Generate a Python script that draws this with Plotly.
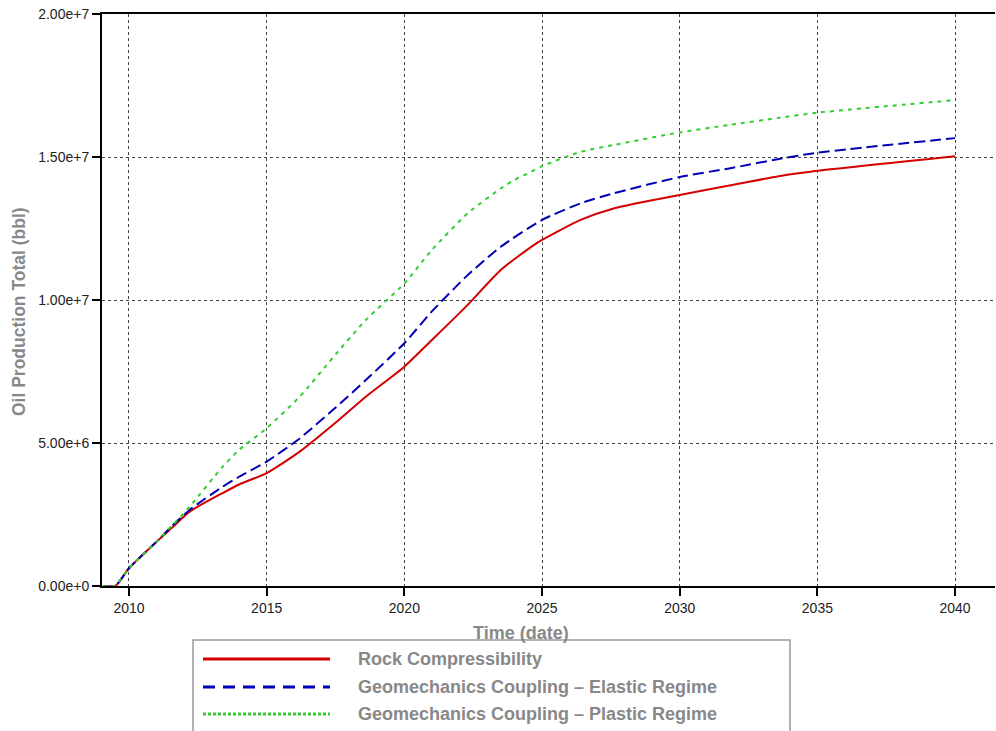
import plotly.graph_objects as go

# ---- data (values in million bbl, time in decimal years) ----
rock_t = [2009.05, 2009.5, 2010.0, 2011.0, 2011.6, 2012.2, 2013.4, 2014.0, 2015.0,
          2016.2, 2017.4, 2018.6, 2020.0, 2021.0, 2022.3, 2023.5, 2024.7, 2025.0,
          2026.4, 2027.6, 2030.0, 2031.8, 2033.6, 2035.0, 2040.0]
rock_v = [0.0, 0.0, 0.62, 1.55, 2.07, 2.6, 3.25, 3.55, 3.95,
          4.7, 5.63, 6.62, 7.67, 8.6, 9.83, 11.05, 11.92, 12.1,
          12.8, 13.2, 13.67, 14.0, 14.33, 14.52, 15.03]

elastic_t = [2009.05, 2009.5, 2010.0, 2011.0, 2011.6, 2012.2, 2013.4, 2014.0, 2015.0, 2016.2,
             2017.4, 2018.6, 2020.0, 2021.0, 2022.3, 2023.5, 2025.0, 2026.4, 2027.6, 2030.0,
             2031.8, 2033.6, 2035.0, 2040.0]
elastic_v = [0.0, 0.0, 0.62, 1.55, 2.13, 2.66, 3.47, 3.82, 4.35, 5.16,
             6.15, 7.2, 8.49, 9.6, 10.87, 11.86, 12.8, 13.38, 13.73, 14.3,
             14.6, 14.93, 15.15, 15.66]

plastic_t = [2009.05, 2009.5, 2010.0, 2011.0, 2011.6, 2012.2, 2013.4, 2014.0, 2015.0, 2016.2,
             2017.4, 2018.6, 2020.0, 2021.0, 2022.3, 2023.5, 2024.0, 2024.6, 2025.0, 2026.4,
             2027.6, 2030.0, 2031.8, 2033.6, 2035.0, 2040.0]
plastic_v = [0.0, 0.0, 0.62, 1.55, 2.15, 2.77, 4.17, 4.76, 5.52, 6.62,
             7.98, 9.3, 10.58, 11.75, 13.03, 13.9, 14.2, 14.48, 14.68, 15.18,
             15.42, 15.86, 16.12, 16.37, 16.55, 16.99]

series_names = ["Rock Compressibility",
                "Geomechanics Coupling \u2013 Elastic Regime",
                "Geomechanics Coupling \u2013 Plastic Regime"]
x_ticks = [2010, 2015, 2020, 2025, 2030, 2035, 2040]
y_ticks = [0, 5e6, 1e7, 1.5e7, 2e7]
y_ticktext = ["0.00e+0", "5.00e+6", "1.00e+7", "1.50e+7", "2.00e+7"]

colors = ["#d40000", "#0000b4", "#33cc33"]
dashes = ["solid", "11px,5px", "4px,5px"]
legend_dashes = ["solid", "12px,8px", "3px,2px"]

fig = go.Figure()
for t, v, name, c, d in zip([rock_t, elastic_t, plastic_t],
                            [rock_v, elastic_v, plastic_v],
                            series_names, colors, dashes):
    fig.add_trace(go.Scatter(x=t, y=[val * 1e6 for val in v], mode="lines", name=name,
                             line=dict(color=c, width=2, dash=d, shape="spline", smoothing=0.6)))

W, H = 996, 731
L, R, T, B = 102, 1, 14, 145
pw, ph = W - L - R, H - T - B

def px(xp):
    return (xp - L) / pw

def py(yp):
    return (H - B - yp) / ph

fig.update_layout(
    width=W, height=H,
    margin=dict(l=L, r=R, t=T, b=B),
    paper_bgcolor="white", plot_bgcolor="white",
    showlegend=False,
    font=dict(family="Liberation Sans, Arial, sans-serif", color="#222"),
)
fig.update_xaxes(
    range=[2009.02, 2041.45], tickvals=x_ticks, ticktext=[str(v) for v in x_ticks],
    showline=True, linecolor="black", linewidth=2, mirror=True,
    ticks="outside", ticklen=8, tickwidth=2, tickcolor="black",
    showgrid=True, gridcolor="#444", gridwidth=1, griddash="3px,3px",
    zeroline=False, tickfont=dict(size=14, color="#222"),
)
fig.update_yaxes(
    range=[0, 2e7], tickvals=y_ticks, ticktext=y_ticktext,
    showline=True, linecolor="black", linewidth=2, mirror=False,
    ticks="outside", ticklen=8, tickwidth=2, tickcolor="black",
    showgrid=True, gridcolor="#444", gridwidth=1, griddash="3px,3px",
    zeroline=False, tickfont=dict(size=14, color="#222"),
)

# axis titles
fig.add_annotation(x=px(521), y=py(633), xref="paper", yref="paper", text="<b>Time (date)</b>",
                   showarrow=False, font=dict(size=18, color="#888"), xanchor="center", yanchor="middle")
fig.add_annotation(x=px(19), y=py(312), xref="paper", yref="paper",
                   text="<b>Oil Production Total (bbl)</b>", textangle=-90,
                   showarrow=False, font=dict(size=17.5, color="#888"), xanchor="center", yanchor="middle")

# legend box
fig.add_shape(type="rect", xref="paper", yref="paper", x0=px(193), x1=px(790), y0=py(745), y1=py(640),
              line=dict(color="#999", width=1.5), fillcolor="white", layer="above")
rows = [659, 687, 714]
for name, c, d, ry in zip(series_names, colors, legend_dashes, rows):
    fig.add_shape(type="line", xref="paper", yref="paper", x0=px(203), x1=px(330), y0=py(ry), y1=py(ry),
                  line=dict(color=c, width=3, dash=d), layer="above")
    fig.add_annotation(x=px(356), y=py(ry), xref="paper", yref="paper", text="<b>" + name + "</b>",
                       showarrow=False, xanchor="left", yanchor="middle",
                       font=dict(size=18, color="#888"))

fig.write_html("out.html")
